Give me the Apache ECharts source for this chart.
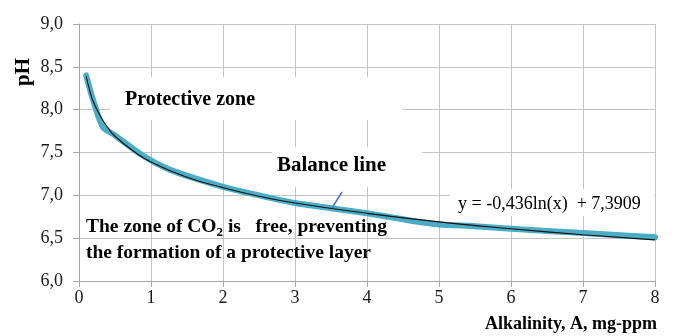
<!DOCTYPE html>
<html>
<head>
<meta charset="utf-8">
<script src="https://cdn.jsdelivr.net/npm/echarts@6/dist/echarts.min.js"></script>
<style>
  html, body { margin: 0; padding: 0; background: #fff; }
  #chart { width: 675px; height: 336px; }
</style>
</head>
<body>
<div id="chart"></div>
<script>
// ---- Data ----
const alkalinity = [0.1, 0.2, 0.33, 0.5, 0.875, 1.26, 2, 2.5, 3, 3.5, 4, 4.5, 5, 5.5, 6, 7, 8];
const phMeasured = [8.40, 8.10, 7.80, 7.70, 7.47, 7.30, 7.10, 7.00, 6.91, 6.85, 6.79, 6.72, 6.66, 6.64, 6.61, 6.56, 6.51];

const trendAlkalinity = [0.1, 0.15, 0.2, 0.3, 0.4, 0.5, 0.75, 1, 1.5, 2, 2.5, 3, 4, 5, 6, 7, 8];
const trendPH = [8.39, 8.22, 8.09, 7.92, 7.79, 7.69, 7.52, 7.39, 7.21, 7.09, 6.99, 6.91, 6.79, 6.69, 6.61, 6.54, 6.48];

const xTicks = [0, 1, 2, 3, 4, 5, 6, 7, 8];
const yTicks = [6.0, 6.5, 7.0, 7.5, 8.0, 8.5, 9.0];

const yAxisTitle = 'pH';
const xAxisTitle = 'Alkalinity, A, mg-ppm';
const labelProtective = 'Protective zone';
const labelBalance = 'Balance line';
const labelEquation = 'y = -0,436ln(x)  + 7,3909';
const labelZoneLine1a = 'The zone of CO';
const labelZoneSub = '2';
const labelZoneLine1b = ' is   free, preventing';
const labelZoneLine2 = 'the formation of a protective layer';

const FONT = 'Liberation Serif';

const chart = echarts.init(document.getElementById('chart'), null, { renderer: 'canvas' });

function txt(text, x, y, size, weight, align, extra) {
  return Object.assign({
    type: 'text', z: 10, x: x, y: y,
    style: {
      text: text, fontFamily: FONT, fontSize: size, fontWeight: weight,
      fill: '#000', verticalAlign: 'middle', textAlign: align
    }
  }, extra || {});
}

const option = {
  backgroundColor: '#ffffff',
  animation: false,
  textStyle: { fontFamily: FONT },
  grid: { left: 79, right: 20, top: 24, bottom: 55, containLabel: false },
  xAxis: {
    type: 'value',
    min: xTicks[0],
    max: xTicks[xTicks.length - 1],
    interval: 1,
    axisLine: { show: true, lineStyle: { color: '#a6a6a6', width: 1 } },
    axisTick: { show: true, length: 6, lineStyle: { color: '#a6a6a6' } },
    splitLine: { show: true, lineStyle: { color: '#c4c4c4', width: 1 } },
    axisLabel: { color: '#1a1a1a', fontFamily: FONT, fontSize: 18, margin: 8 }
  },
  yAxis: {
    type: 'value',
    min: yTicks[0],
    max: yTicks[yTicks.length - 1],
    interval: 0.5,
    axisLine: { show: true, lineStyle: { color: '#a6a6a6', width: 1 } },
    axisTick: { show: true, length: 6, lineStyle: { color: '#a6a6a6' } },
    splitLine: { show: true, lineStyle: { color: '#c4c4c4', width: 1 } },
    axisLabel: {
      color: '#1a1a1a', fontFamily: FONT, fontSize: 18, margin: 16,
      formatter: v => v.toFixed(1).replace('.', ',')
    }
  },
  series: [
    {
      name: 'pH',
      type: 'line',
      data: alkalinity.map((x, i) => [x, phMeasured[i]]),
      smooth: 0.25,
      showSymbol: false,
      lineStyle: { color: '#4BACC6', width: 6, cap: 'round', join: 'round' },
      z: 3
    },
    {
      name: 'trend',
      type: 'line',
      data: trendAlkalinity.map((x, i) => [x, trendPH[i]]),
      smooth: true,
      showSymbol: false,
      lineStyle: { color: '#111111', width: 1.1 },
      z: 4
    }
  ],
  graphic: [
    { type: 'rect', z: 1, shape: { x: 110, y: 77, width: 292, height: 43 }, style: { fill: '#ffffff' } },
    { type: 'rect', z: 1, shape: { x: 272, y: 147, width: 150, height: 40 }, style: { fill: '#ffffff' } },
    { type: 'rect', z: 1, shape: { x: 450, y: 189, width: 204, height: 27 }, style: { fill: '#ffffff' } },
    txt(labelProtective, 125, 100, 20, 'bold', 'left'),
    txt(labelBalance, 277, 166, 21, 'bold', 'left'),
    {
      type: 'line', z: 10,
      shape: { x1: 342, y1: 192, x2: 332, y2: 208 },
      style: { stroke: '#4472C4', lineWidth: 1.5 }
    },
    txt(labelEquation, 458, 204, 18, 'normal', 'left'),
    {
      type: 'text', z: 10, x: 86, y: 215,
      style: {
        text: '{a|' + labelZoneLine1a + '}{s|' + labelZoneSub + '}{a|' + labelZoneLine1b + '}',
        textAlign: 'left', verticalAlign: 'top',
        rich: {
          a: { fontFamily: FONT, fontSize: 19.5, fontWeight: 'bold', fill: '#000', lineHeight: 24, verticalAlign: 'middle' },
          s: { fontFamily: FONT, fontSize: 13, fontWeight: 'bold', fill: '#000', lineHeight: 13, verticalAlign: 'bottom' }
        }
      }
    },
    txt(labelZoneLine2, 86, 253, 19.5, 'bold', 'left'),
    txt(yAxisTitle, 24, 72, 21, 'bold', 'center', { rotation: Math.PI / 2 }),
    txt(xAxisTitle, 657, 324, 18, 'bold', 'right')
  ]
};

chart.setOption(option);
</script>
</body>
</html>
